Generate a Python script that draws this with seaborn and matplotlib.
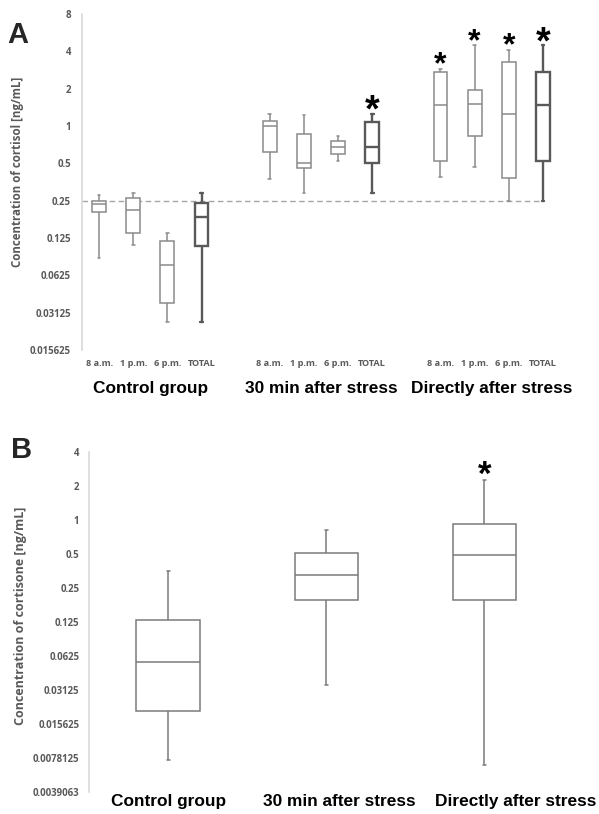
import matplotlib
matplotlib.use("Agg")
import matplotlib.pyplot as plt
import seaborn as sns
import pandas as pd
import numpy as np

sns.set_style("white")
plt.rcParams["font.family"] = ["DejaVu Sans"]

# ---------------- data (five-number summaries: min, q1, median, q3, max) ----------------
groups_a = ["Control group", "30 min after stress", "Directly after stress"]
times_a = ["8 a.m.", "1 p.m.", "6 p.m.", "TOTAL"]

ctrl_8am = [0.0855, 0.202, 0.235, 0.250, 0.276]
ctrl_1pm = [0.109, 0.136, 0.209, 0.261, 0.287]
ctrl_6pm = [0.0264, 0.0377, 0.0763, 0.1187, 0.138]
ctrl_total = [0.0264, 0.1077, 0.185, 0.241, 0.287]

min30_8am = [0.373, 0.612, 0.994, 1.105, 1.258]
min30_1pm = [0.290, 0.460, 0.502, 0.869, 1.225]
min30_6pm = [0.518, 0.596, 0.678, 0.758, 0.831]
min30_total = [0.290, 0.499, 0.678, 1.084, 1.258]

direct_8am = [0.387, 0.518, 1.466, 2.713, 2.906]
direct_1pm = [0.466, 0.837, 1.513, 1.945, 4.470]
direct_6pm = [0.250, 0.382, 1.258, 3.307, 4.127]
direct_total = [0.250, 0.518, 1.474, 2.713, 4.470]

stars_a = [("30 min after stress", "TOTAL"),
           ("Directly after stress", "8 a.m."), ("Directly after stress", "1 p.m."),
           ("Directly after stress", "6 p.m."), ("Directly after stress", "TOTAL")]
ref_line_a = 0.25

ticks_a = [0.015625, 0.03125, 0.0625, 0.125, 0.25, 0.5, 1, 2, 4, 8]
ticklabels_a = ["0.015625", "0.03125", "0.0625", "0.125", "0.25", "0.5", "1", "2", "4", "8"]

groups_b = ["Control group", "30 min after stress", "Directly after stress"]
cortisone_ctrl = [0.00745, 0.0202, 0.0551, 0.130, 0.3536]
cortisone_30 = [0.034, 0.194, 0.326, 0.510, 0.810]
cortisone_direct = [0.00664, 0.194, 0.487, 0.922, 2.233]
stars_b = ["Directly after stress"]

ticks_b = [2.0 ** k for k in range(-8, 3)]
ticklabels_b = ["0.0039063", "0.0078125", "0.015625", "0.03125", "0.0625", "0.125",
                "0.25", "0.5", "1", "2", "4"]

# ---------------- build tables ----------------
series_a = {
    ("Control group", "8 a.m."): ctrl_8am, ("Control group", "1 p.m."): ctrl_1pm,
    ("Control group", "6 p.m."): ctrl_6pm, ("Control group", "TOTAL"): ctrl_total,
    ("30 min after stress", "8 a.m."): min30_8am, ("30 min after stress", "1 p.m."): min30_1pm,
    ("30 min after stress", "6 p.m."): min30_6pm, ("30 min after stress", "TOTAL"): min30_total,
    ("Directly after stress", "8 a.m."): direct_8am, ("Directly after stress", "1 p.m."): direct_1pm,
    ("Directly after stress", "6 p.m."): direct_6pm, ("Directly after stress", "TOTAL"): direct_total,
}
rows = []
for (g, t), vals in series_a.items():
    for v in vals:
        rows.append({"cat": f"{g}|{t}", "time": t, "value": v})
df_a = pd.DataFrame(rows)

order_a = []
for i, g in enumerate(groups_a):
    order_a += [f"{g}|{t}" for t in times_a]
    if i < len(groups_a) - 1:
        order_a.append(f"gap{i}")
pos_a = {c: i for i, c in enumerate(order_a)}

series_b = {"Control group": cortisone_ctrl, "30 min after stress": cortisone_30,
            "Directly after stress": cortisone_direct}
df_b = pd.DataFrame([{"group": g, "value": v} for g, vals in series_b.items() for v in vals])

# ---------------- figure ----------------
W, H = 599, 814
fig = plt.figure(figsize=(W / 100, H / 100), dpi=100)
axA = fig.add_axes([82 / W, 1 - 350 / H, (560 - 82) / W, (350 - 14) / H])
axB = fig.add_axes([89 / W, 1 - 791.5 / H, (563.5 - 89) / W, (791.5 - 451.7) / H])

tick_color = "#595959"
tick_font = "Open Sans"

# Panel A
reg = df_a[df_a["time"] != "TOTAL"]
tot = df_a[df_a["time"] == "TOTAL"]
sns.boxplot(data=reg, x="cat", y="value", order=order_a, ax=axA, whis=(0, 100),
            width=0.41, color="white", linecolor="#8a8a8a", linewidth=1.1,
            log_scale=2, showfliers=False, capwidths=0.08, zorder=3)
sns.boxplot(data=tot, x="cat", y="value", order=order_a, ax=axA, whis=(0, 100),
            width=0.41, color="white", linecolor="#595959", linewidth=1.7,
            showfliers=False, capwidths=0.08, zorder=3)

axA.hlines(ref_line_a, -0.5, pos_a["Directly after stress|TOTAL"], colors="#a6a6a6",
           linestyles=(0, (4, 2.5)), linewidth=1.0, zorder=1)

axA.set_ylim(ticks_a[0], ticks_a[-1])
axA.set_xlim(-0.5, len(order_a) - 0.5)
axA.set_yticks(ticks_a)
axA.set_yticklabels(ticklabels_a)
axA.yaxis.set_minor_locator(matplotlib.ticker.NullLocator())
sub_pos = [pos_a[f"{g}|{t}"] for g in groups_a for t in times_a]
axA.set_xticks(sub_pos)
axA.set_xticklabels(times_a * len(groups_a))
axA.set_xlabel("")
axA.set_ylabel("")
axA.tick_params(axis="y", length=0, pad=8, labelsize=6.9, labelcolor=tick_color)
axA.tick_params(axis="x", length=0, pad=6.5, labelsize=6.6, labelcolor=tick_color)
for lab in axA.get_yticklabels() + axA.get_xticklabels():
    lab.set_fontweight("bold")
    lab.set_family(tick_font)

for g in groups_a:
    center = np.mean([pos_a[f"{g}|{t}"] for t in times_a])
    axA.annotate(g, xy=(center, 0), xycoords=("data", "axes fraction"),
                 xytext=(0, -27.5), textcoords="offset points", ha="center", va="center",
                 fontsize=12.4, fontweight="bold", family="Liberation Sans", color="black",
                 annotation_clip=False)

for g, t in stars_a:
    top = max(series_a[(g, t)])
    big = t == "TOTAL"
    axA.annotate("*", xy=(pos_a[f"{g}|{t}"], top), xytext=(0, -5.5 if big else -3.5),
                 textcoords="offset points", ha="center", va="baseline",
                 fontsize=27 if big else 23, fontweight="bold", family="Liberation Sans",
                 color="black")

# Panel B
sns.boxplot(data=df_b, x="group", y="value", order=groups_b, ax=axB, whis=(0, 100),
            width=0.4, color="white", linecolor="#7a7a7a", linewidth=1.1,
            log_scale=2, showfliers=False, capwidths=0.02, zorder=3)
axB.set_ylim(ticks_b[0], ticks_b[-1])
axB.set_xlim(-0.5, 2.5)
axB.set_yticks(ticks_b)
axB.set_yticklabels(ticklabels_b)
axB.yaxis.set_minor_locator(matplotlib.ticker.NullLocator())
axB.set_xticks([])
axB.set_xlabel("")
axB.set_ylabel("")
axB.tick_params(axis="y", length=0, pad=7, labelsize=6.9, labelcolor=tick_color)
for lab in axB.get_yticklabels():
    lab.set_fontweight("bold")
    lab.set_family(tick_font)

label_shift_b = [0.0, 0.08, 0.2]
for i, g in enumerate(groups_b):
    axB.annotate(g, xy=(i + label_shift_b[i], 0), xycoords=("data", "axes fraction"),
                 xytext=(0, -7.5), textcoords="offset points", ha="center", va="center",
                 fontsize=12.4, fontweight="bold", family="Liberation Sans", color="black",
                 annotation_clip=False)

for g in stars_b:
    top = max(series_b[g])
    axB.annotate("*", xy=(groups_b.index(g), top), xytext=(0, -3),
                 textcoords="offset points", ha="center", va="baseline",
                 fontsize=25, fontweight="bold", family="Liberation Sans", color="black")

for ax in (axA, axB):
    for s in ("top", "right", "bottom"):
        ax.spines[s].set_visible(False)
    ax.spines["left"].set_color("#d9d9d9")
    ax.spines["left"].set_linewidth(1.2)
    ax.grid(False)

fig.text(7 / W, 1 - 43 / H, "A", fontsize=21, fontweight="bold", family="Liberation Sans",
         va="baseline", ha="left")
fig.text(11 / W, 1 - 458 / H, "B", fontsize=21, fontweight="bold", family="Liberation Sans",
         va="baseline", ha="left")
fig.text(18 / W, 1 - 171.5 / H, "Concentration of cortisol [ng/mL]", rotation=90,
         ha="center", va="center", fontsize=8.3, fontweight="bold", family=tick_font,
         color=tick_color)
fig.text(21 / W, 1 - 616 / H, "Concentration of cortisone [ng/mL]", rotation=90,
         ha="center", va="center", fontsize=9.0, fontweight="bold", family=tick_font,
         color=tick_color)

fig.savefig("out.png", dpi=100)
